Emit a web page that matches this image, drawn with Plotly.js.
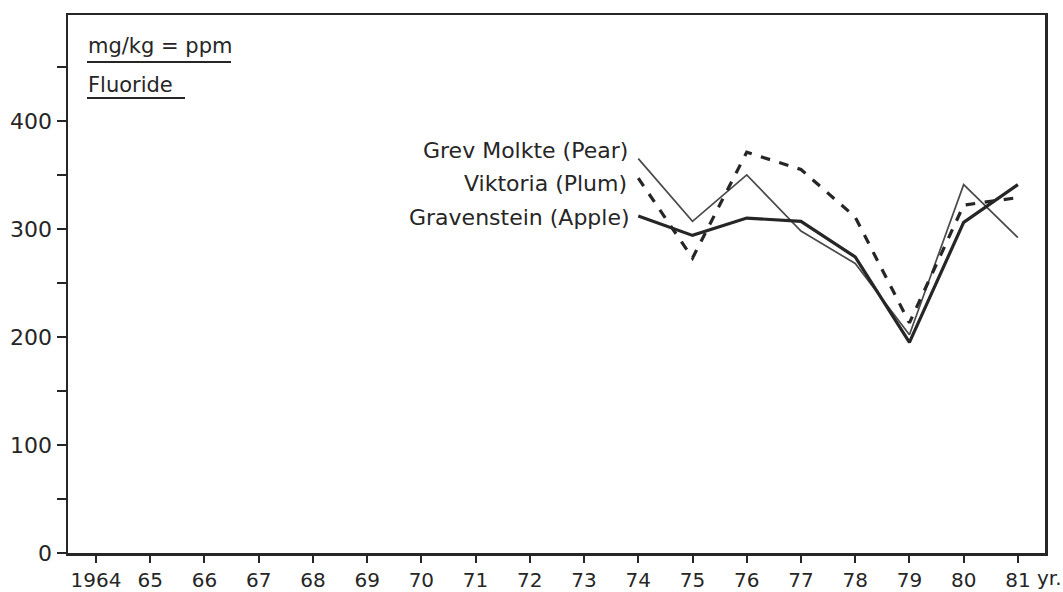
<!DOCTYPE html>
<html>
<head>
<meta charset="utf-8">
<script src="https://cdn.plot.ly/plotly-3.0.1.min.js"></script>
<style>html,body{margin:0;padding:0;background:#fff;}#chart{width:1063px;height:592px;}</style>
</head>
<body>
<div id="chart"></div>
<script>
const years = [1974, 1975, 1976, 1977, 1978, 1979, 1980, 1981];
const pear  = [365, 307, 350, 298, 268, 202, 341, 292];
const plum  = [347, 273, 371, 355, 311, 213, 322, 329];
const apple = [312, 294, 310, 307, 274, 195, 306, 341];
const seriesNames = ["Grev Molkte (Pear)", "Viktoria (Plum)", "Gravenstein (Apple)"];
const xTickVals = [1964,1965,1966,1967,1968,1969,1970,1971,1972,1973,1974,1975,1976,1977,1978,1979,1980,1981];
const xTickText = ["1964","65","66","67","68","69","70","71","72","73","74","75","76","77","78","79","80","81"];
const yTickVals = [0, 100, 200, 300, 400];

const ink = "#262626";
const fontFam = "DejaVu Sans, sans-serif";

const traces = [
  {x: years, y: pear, name: seriesNames[0], mode: "lines", line: {color: "#4a4a4a", width: 1.7}},
  {x: years, y: plum, name: seriesNames[1], mode: "lines", line: {color: ink, width: 3.2, dash: "dash"}},
  {x: years, y: apple, name: seriesNames[2], mode: "lines", line: {color: ink, width: 3.2}}
];

const layout = {
  width: 1063, height: 592,
  margin: {l: 68, r: 18, t: 15, b: 39},
  paper_bgcolor: "#fff", plot_bgcolor: "#fff",
  showlegend: false,
  font: {family: fontFam, color: ink},
  xaxis: {
    range: [1963.484, 1981.5],
    tickvals: xTickVals, ticktext: xTickText,
    ticks: "outside", ticklen: 7, tickwidth: 2, tickcolor: ink,
    showline: true, linecolor: ink, linewidth: 2.5, mirror: true,
    showgrid: false, zeroline: false,
    tickfont: {size: 20, color: ink, family: fontFam}
  },
  yaxis: {
    range: [0, 498],
    tickvals: yTickVals,
    ticks: "outside", ticklen: 9, tickwidth: 2, tickcolor: ink,
    minor: {dtick: 50, tick0: 0, ticks: "outside", ticklen: 9, tickwidth: 2, tickcolor: ink, showgrid: false},
    showline: true, linecolor: ink, linewidth: 2.5, mirror: true,
    showgrid: false, zeroline: false,
    tickfont: {size: 22, color: ink, family: fontFam}
  },
  annotations: [
    {text: seriesNames[0], xref: "x", yref: "paper", x: 1973.85, y: 1 - (150 - 15) / 538, xanchor: "right", yanchor: "middle", showarrow: false, font: {size: 22, color: ink}},
    {text: seriesNames[1], xref: "x", yref: "paper", x: 1973.82, y: 1 - (183 - 15) / 538, xanchor: "right", yanchor: "middle", showarrow: false, font: {size: 22, color: ink}},
    {text: seriesNames[2], xref: "x", yref: "paper", x: 1973.88, y: 1 - (217 - 15) / 538, xanchor: "right", yanchor: "middle", showarrow: false, font: {size: 22, color: ink}},
    {text: "mg/kg = ppm", xref: "paper", yref: "paper", x: (86 - 68) / 977, y: 1 - (46 - 15) / 538, xanchor: "left", yanchor: "middle", showarrow: false, font: {size: 21, color: ink}},
    {text: "Fluoride", xref: "paper", yref: "paper", x: (86 - 68) / 977, y: 1 - (85 - 15) / 538, xanchor: "left", yanchor: "middle", showarrow: false, font: {size: 21, color: ink}},
    {text: "yr.", xref: "paper", yref: "paper", x: (1035 - 68) / 977, y: -(578 - 553) / 538, xanchor: "left", yanchor: "middle", showarrow: false, font: {size: 20, color: ink}}
  ],
  shapes: [
    {type: "line", xref: "paper", yref: "paper", x0: (87 - 68) / 977, x1: (231 - 68) / 977, y0: 1 - (62 - 15) / 538, y1: 1 - (62 - 15) / 538, line: {color: ink, width: 2}},
    {type: "line", xref: "paper", yref: "paper", x0: (87 - 68) / 977, x1: (185 - 68) / 977, y0: 1 - (98 - 15) / 538, y1: 1 - (98 - 15) / 538, line: {color: ink, width: 2}}
  ]
};

Plotly.newPlot("chart", traces, layout, {staticPlot: true, displayModeBar: false});
</script>
</body>
</html>
